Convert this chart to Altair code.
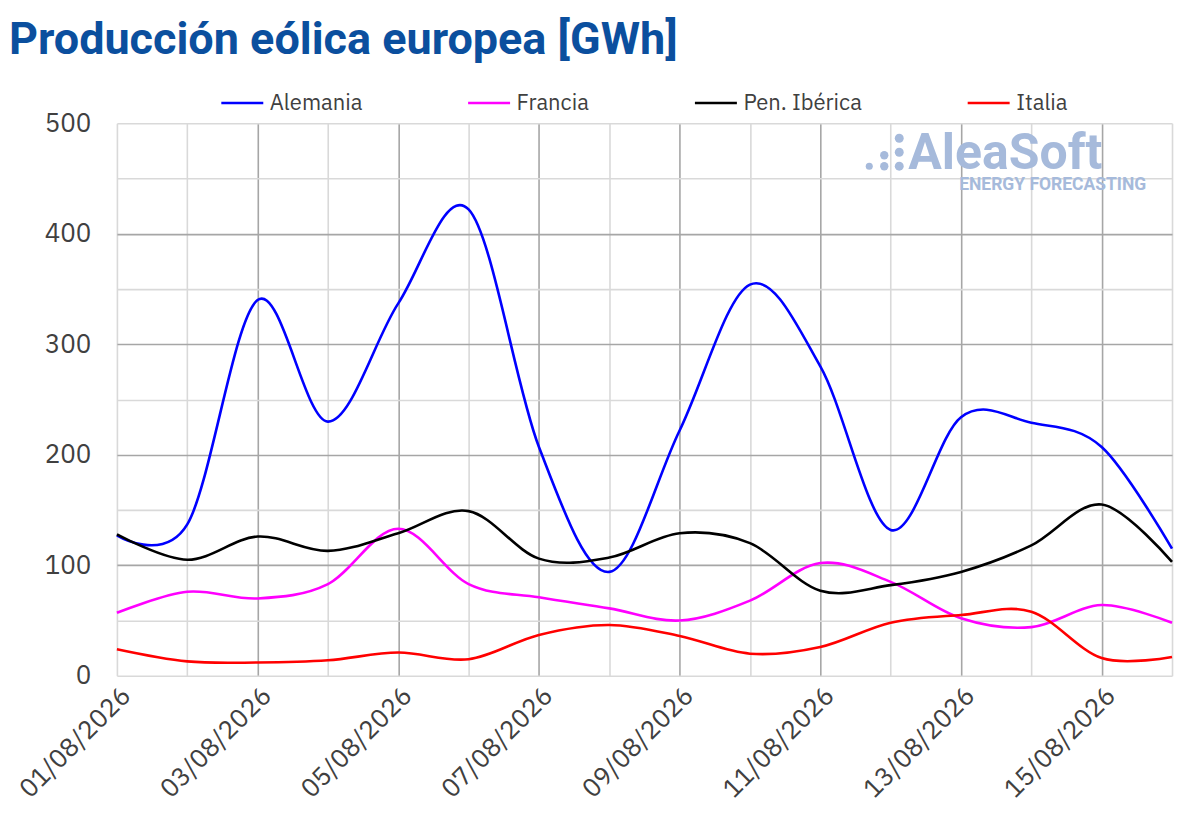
import altair as alt
import pandas as pd

# ---- data ----
dates = [f"2026-08-{d:02d}" for d in range(1, 17)]
series = ["Alemania", "Francia", "Pen. Ibérica", "Italia"]
alemania = [127, 137, 340, 230, 337, 422, 207, 94, 222, 354, 280, 132, 234, 229, 207, 115]
francia = [57, 76, 70, 83, 133, 83, 71, 61, 50, 68, 102, 85, 52, 44, 64, 48]
iberica = [128, 105, 126, 113, 129, 149, 106, 107, 129, 120, 77, 82, 94, 118, 155, 103]
italia = [24, 13, 12, 14, 21, 15, 37, 46, 36, 20, 26, 48, 55, 58, 16, 17]
colors = ["#0000ff", "#ff00ff", "#000000", "#ff0000"]
y_ticks = list(range(0, 501, 50))

values = {"Alemania": alemania, "Francia": francia, "Pen. Ibérica": iberica, "Italia": italia}
rows = []
for s in series:
    for d, v in zip(dates, values[s]):
        rows.append({"fecha": d, "serie": s, "valor": v})
df = pd.DataFrame(rows)

day_ms = [int(pd.Timestamp(d, tz="UTC").value // 10**6) for d in dates]

FONT = "IBM Plex Sans, Roboto, Open Sans, sans-serif"
LABEL = "#404040"

x_axis = alt.Axis(
    values=day_ms,
    labelExpr="utcdate(datum.value) % 2 == 1 ? utcFormat(datum.value, '%d/%m/%Y') : ''",
    labelAngle=-45,
    labelAlign="right",
    labelBaseline="top",
    labelFontSize=26,
    labelFont=FONT,
    labelColor=LABEL,
    labelPadding=6,
    labelOverlap=False,
    labelFlush=False,
    ticks=False,
    domain=False,
    title=None,
    grid=True,
    gridWidth=1.6,
    gridColor={
        "condition": {
            "test": "utcdate(datum.value) % 2 == 1 && utcdate(datum.value) > 1",
            "value": "#a6a6a6",
        },
        "value": "#d9d9d9",
    },
)

y_axis = alt.Axis(
    values=y_ticks,
    labelExpr="datum.value % 100 == 0 ? datum.label : ''",
    labelFontSize=26,
    labelFont=FONT,
    labelColor=LABEL,
    labelPadding=26,
    ticks=False,
    domain=False,
    title=None,
    grid=True,
    gridWidth=1.6,
    gridColor={
        "condition": {
            "test": "datum.value % 100 == 0 && datum.value > 0 && datum.value < 500",
            "value": "#a6a6a6",
        },
        "value": "#d9d9d9",
    },
)

lines = alt.Chart(df).mark_line(interpolate="cardinal", strokeWidth=2.6).encode(
    x=alt.X("fecha:T", scale=alt.Scale(type="utc", domain=[day_ms[0], day_ms[-1]], nice=False), axis=x_axis),
    y=alt.Y("valor:Q", scale=alt.Scale(domain=[0, 500], nice=False), axis=y_axis),
    color=alt.Color(
        "serie:N",
        scale=alt.Scale(domain=series, range=colors),
        sort=series,
        legend=alt.Legend(
            title=None,
            orient="none",
            legendX=103,
            legendY=-43,
            direction="horizontal",
            symbolType="stroke",
            symbolSize=1764,
            symbolStrokeWidth=2.6,
            labelFontSize=22,
            labelFont=FONT,
            labelColor=LABEL,
            labelOffset=5,
            columnPadding=100,
            labelLimit=300,
        ),
    ),
    detail="serie:N",
)

wm_color = "#a6badb"
logo_df = pd.DataFrame({"t": ["AleaSoft"]})
logo = alt.Chart(logo_df).mark_text(
    font="Roboto", fontSize=50, fontWeight="bold", color=wm_color, align="left", baseline="alphabetic"
).encode(text="t:N", x=alt.value(792), y=alt.value(46))

sub_df = pd.DataFrame({"t": ["ENERGY FORECASTING"]})
sub = alt.Chart(sub_df).mark_text(
    font="Roboto", fontSize=17.5, fontWeight="bold", color=wm_color, align="left", baseline="alphabetic"
).encode(text="t:N", x=alt.value(843), y=alt.value(67))

dot_layers = []
for (dx, dy, sz) in [(753, 43, 50), (768, 32, 70), (768, 43, 70), (783, 15, 80), (783, 29, 80), (783, 43, 80)]:
    dot_layers.append(
        alt.Chart(logo_df).mark_circle(color=wm_color, opacity=1, size=sz).encode(
            x=alt.value(dx), y=alt.value(dy)
        )
    )

chart = alt.layer(*dot_layers, logo, sub, lines).properties(
    width=1056,
    height=553,
    title=alt.TitleParams(
        "Producción eólica europea [GWh]",
        anchor="start",
        frame="group",
        font="Roboto",
        fontSize=45,
        fontWeight="bold",
        color="#0b4f9e",
        dx=-108,
        offset=17,
    ),
    padding={"left": 109, "top": 115, "right": 20, "bottom": 140},
    autosize=alt.AutoSizeParams(type="none"),
).configure_view(stroke=None)

chart.save("out.html", embed_options={"renderer": "svg", "actions": False})
